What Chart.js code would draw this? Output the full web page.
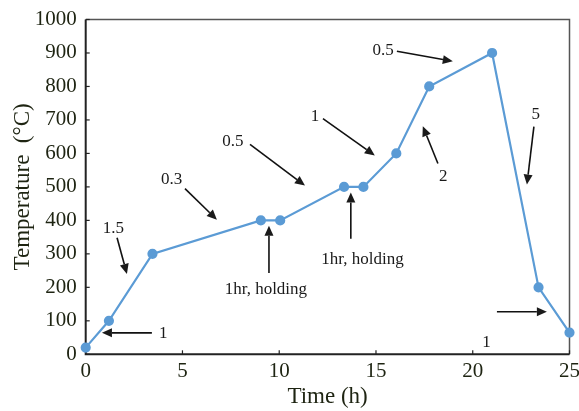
<!DOCTYPE html>
<html>
<head>
<meta charset="utf-8">
<script src="https://cdn.jsdelivr.net/npm/chart.js@4/dist/chart.umd.min.js"></script>
<style>
  html, body { margin: 0; padding: 0; background: #fff; }
  #wrap { width: 579px; height: 411px; position: relative; }
</style>
</head>
<body>
<div id="wrap"><canvas id="c"></canvas></div>
<script>
// ── Data ──
const times = [0, 1.2, 3.45, 9.05, 10.05, 13.35, 14.35, 16.05, 17.75, 21.0, 23.4, 25];
const temps = [20, 100, 300, 400, 400, 500, 500, 600, 800, 900, 200, 65];
const xTicks = [0, 5, 10, 15, 20, 25];
const yTicks = [0, 100, 200, 300, 400, 500, 600, 700, 800, 900, 1000];

// heating-rate labels (data coords): text position + arrow from/to
const notes = [
  { text: '0.3', at: [4.44, 521], from: [5.13, 495], to: [6.78, 402] },
  { text: '0.5', at: [7.61, 636], from: [8.49, 627], to: [11.33, 504] },
  { text: '1', at: [11.85, 711], from: [12.26, 704], to: [14.94, 594] },
  { text: '0.5', at: [15.37, 906], from: [16.08, 905], to: [18.97, 875] },
  { text: '2', at: [18.47, 532], from: [18.2, 570], to: [17.42, 681] },
  { text: '5', at: [23.26, 716], from: [23.16, 680], to: [22.8, 507] },
  { text: '1.5', at: [1.43, 377], from: [1.62, 348], to: [2.13, 240] },
  { text: '1', at: [4.01, 63], from: [3.42, 64], to: [0.84, 64] },
  { text: '1hr, holding', at: [9.31, 193], from: [9.47, 243], to: [9.47, 384] },
  { text: '1hr, holding', at: [14.3, 282], from: [13.7, 345], to: [13.7, 483] },
  { text: '1', at: [20.71, 35], from: [21.25, 127], to: [23.83, 127] },
];

const serif = "'Liberation Serif', 'DejaVu Serif', serif";
const inkColor = '#1e2412';

// frame + inward ticks, drawn under the line
const framePlugin = {
  id: 'frame',
  beforeDatasetsDraw(chart) {
    const { ctx, chartArea: a, scales } = chart;
    ctx.save();
    ctx.strokeStyle = '#555';
    ctx.lineWidth = 1.5;
    ctx.beginPath();
    ctx.moveTo(a.left, a.top); ctx.lineTo(a.right, a.top); ctx.lineTo(a.right, a.bottom);
    ctx.stroke();
    ctx.strokeStyle = '#222';
    ctx.lineWidth = 2;
    ctx.beginPath();
    ctx.moveTo(a.left, a.top); ctx.lineTo(a.left, a.bottom); ctx.lineTo(a.right, a.bottom);
    ctx.stroke();
    ctx.lineWidth = 1.2;
    yTicks.forEach(v => {
      const y = scales.y.getPixelForValue(v);
      ctx.beginPath(); ctx.moveTo(a.left, y); ctx.lineTo(a.left + 4, y); ctx.stroke();
    });
    xTicks.forEach(v => {
      const x = scales.x.getPixelForValue(v);
      ctx.beginPath(); ctx.moveTo(x, a.bottom); ctx.lineTo(x, a.bottom - 4); ctx.stroke();
    });
    ctx.restore();
  }
};

// arrows and rate labels
const notesPlugin = {
  id: 'notes',
  afterDatasetsDraw(chart) {
    const { ctx, scales } = chart;
    const px = p => [scales.x.getPixelForValue(p[0]), scales.y.getPixelForValue(p[1])];
    ctx.save();
    ctx.fillStyle = '#1a1a1a';
    ctx.strokeStyle = '#111';
    ctx.lineWidth = 1.6;
    ctx.font = '17px ' + serif;
    ctx.textAlign = 'center';
    ctx.textBaseline = 'middle';
    notes.forEach(n => {
      const [tx, ty] = px(n.at);
      ctx.fillText(n.text, tx, ty);
      const [x1, y1] = px(n.from);
      const [x2, y2] = px(n.to);
      const ang = Math.atan2(y2 - y1, x2 - x1);
      const hl = 10, hw = 4.5;
      const bx = x2 - hl * Math.cos(ang), by = y2 - hl * Math.sin(ang);
      ctx.beginPath(); ctx.moveTo(x1, y1); ctx.lineTo(bx, by); ctx.stroke();
      ctx.beginPath();
      ctx.moveTo(x2, y2);
      ctx.lineTo(bx + hw * Math.sin(ang), by - hw * Math.cos(ang));
      ctx.lineTo(bx - hw * Math.sin(ang), by + hw * Math.cos(ang));
      ctx.closePath(); ctx.fill();
    });
    ctx.restore();
  }
};

new Chart(document.getElementById('c'), {
  type: 'line',
  data: {
    datasets: [{
      data: times.map((t, i) => ({ x: t, y: temps[i] })),
      borderColor: '#5b9bd5',
      backgroundColor: '#5b9bd5',
      borderWidth: 2.2,
      pointRadius: 4,
      pointHoverRadius: 4,
      tension: 0,
      clip: false,
    }]
  },
  options: {
    responsive: true,
    maintainAspectRatio: false,
    animation: false,
    layout: { padding: { top: 19.5, right: 9.5, left: 0, bottom: 0 } },
    plugins: { legend: { display: false }, tooltip: { enabled: false } },
    scales: {
      x: {
        type: 'linear', min: 0, max: 25,
        afterBuildTicks: s => { s.ticks = xTicks.map(v => ({ value: v })); },
        afterFit: s => { s.height = 56.7; s.paddingLeft = 0; s.paddingRight = 0; },
        grid: { display: false, drawTicks: false },
        border: { display: false },
        ticks: { padding: 5, color: inkColor, font: { family: serif, size: 21 }, callback: v => String(v) },
        title: { display: true, text: 'Time (h)', color: inkColor, padding: { top: 0, bottom: 0 }, font: { family: serif, size: 23 } }
      },
      y: {
        min: 0, max: 1000,
        afterBuildTicks: s => { s.ticks = yTicks.map(v => ({ value: v })); },
        afterFit: s => { s.width = 85.7; s.paddingTop = 0; s.paddingBottom = 0; },
        grid: { display: false, drawTicks: false },
        border: { display: false },
        ticks: { padding: 9, color: inkColor, font: { family: serif, size: 21 }, callback: v => String(v) },
        title: { display: true, text: 'Temperature  (°C)', color: inkColor, padding: { top: 9, bottom: 0 }, font: { family: serif, size: 23 } }
      }
    }
  },
  plugins: [framePlugin, notesPlugin]
});
</script>
</body>
</html>
